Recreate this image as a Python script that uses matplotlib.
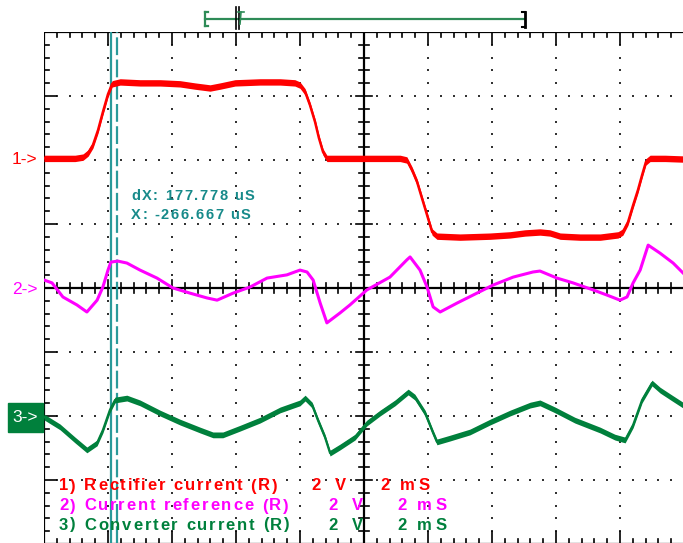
import matplotlib
matplotlib.use("Agg")
import matplotlib.pyplot as plt
from matplotlib.font_manager import FontProperties, findfont
from matplotlib.ft2font import FT2Font
import numpy as np

plt.rcParams['font.family'] = ['Liberation Sans', 'DejaVu Sans']

# scope settings
ms_per_div = 2.0
volt_per_div = 2.0
ch_offset = [2.0, 0.0, -2.0]   # marker level of each channel, in divisions

# 1) rectifier current, red (time in ms, value in V)
red_t = [0, 0.5, 0.97, 1.22, 1.38, 1.53, 1.69, 1.84, 2.0, 2.13,
         2.38, 3.0, 3.63, 4.25, 4.72, 5.19, 5.5, 5.97, 6.75, 7.38,
         7.84, 8.0, 8.16, 8.31, 8.47, 8.59, 8.72, 8.84, 9.25, 9.88,
         10.5, 11.13, 11.34, 11.5, 11.66, 11.81, 11.97, 12.13, 12.28, 13.0,
         13.94, 14.56, 15.03, 15.5, 15.81, 16.13, 16.75, 17.38, 17.94, 18.09,
         18.25, 18.41, 18.56, 18.69, 18.81, 18.94, 19.41, 19.97]
red_v = [0.05, 0.05, 0.05, 0.09, 0.22, 0.47, 0.94, 1.5, 2.06, 2.38,
         2.44, 2.41, 2.41, 2.38, 2.31, 2.25, 2.31, 2.41, 2.44, 2.44,
         2.41, 2.34, 2.13, 1.72, 1.19, 0.69, 0.25, 0.05, 0.05, 0.05,
         0.05, 0.05, 0.0, -0.31, -0.69, -1.19, -1.72, -2.25, -2.38, -2.41,
         -2.38, -2.34, -2.28, -2.25, -2.28, -2.38, -2.41, -2.41, -2.34, -2.25,
         -1.94, -1.41, -0.94, -0.47, -0.06, 0.05, 0.05, 0.03]

# 2) current reference, magenta
mag_t = [0, 0.25, 0.59, 1.03, 1.34, 1.66, 1.84, 2.0, 2.09, 2.31,
         2.59, 3.0, 3.53, 4.03, 4.56, 5.09, 5.41, 5.91, 6.44, 6.97,
         7.59, 8.0, 8.22, 8.41, 8.63, 8.84, 9.25, 9.56, 10.09, 10.81,
         11.34, 11.44, 11.75, 11.97, 12.16, 12.38, 12.91, 13.41, 14.03, 14.66,
         15.28, 15.5, 16.03, 16.53, 17.16, 17.59, 18.0, 18.22, 18.41, 18.63,
         18.88, 19.25, 19.66, 19.97]
mag_v = [0.25, 0.16, -0.28, -0.53, -0.75, -0.38, 0.03, 0.56, 0.81, 0.84,
         0.78, 0.56, 0.31, 0.0, -0.16, -0.31, -0.38, -0.16, 0.03, 0.31,
         0.41, 0.56, 0.5, 0.25, -0.47, -1.09, -0.78, -0.53, -0.06, 0.34,
         0.88, 0.97, 0.56, 0.03, -0.59, -0.75, -0.47, -0.22, 0.09, 0.34,
         0.5, 0.53, 0.31, 0.16, -0.06, -0.22, -0.38, -0.28, 0.16, 0.56,
         1.34, 1.09, 0.78, 0.47]

# 3) converter current, green
grn_t = [0, 0.5, 0.97, 1.34, 1.66, 1.84, 2.06, 2.22, 2.59, 3.0,
         3.63, 4.25, 4.88, 5.28, 5.59, 6.13, 6.75, 7.38, 8.0, 8.16,
         8.38, 8.56, 8.78, 8.94, 9.25, 9.72, 10.09, 10.5, 10.97, 11.38,
         11.59, 11.91, 12.16, 12.28, 12.69, 13.31, 13.94, 14.56, 15.19, 15.5,
         15.97, 16.59, 17.38, 17.84, 18.16, 18.41, 18.69, 19.0, 19.25, 19.63,
         19.97]
grn_v = [-0.03, -0.34, -0.75, -1.06, -0.84, -0.44, 0.19, 0.5, 0.56, 0.41,
         0.09, -0.19, -0.44, -0.59, -0.59, -0.38, -0.13, 0.19, 0.41, 0.56,
         0.34, -0.13, -0.66, -1.16, -0.97, -0.66, -0.22, 0.09, 0.41, 0.75,
         0.59, 0.09, -0.53, -0.81, -0.69, -0.5, -0.19, 0.09, 0.34, 0.41,
         0.19, -0.13, -0.44, -0.66, -0.75, -0.28, 0.5, 1.03, 0.81, 0.56,
         0.34]

cursor_ms = 2.09
cursor_dx_ms = 0.177778

legend_names = ["1) Rectifier current (R)", "2) Current reference (R)",
                "3) Converter current (R)"]
colors = ["#ff0000", "#ff00ff", "#00803c"]
teal = "#2a9a9a"

W, H = 683, 543
fig = plt.figure(figsize=(W / 100, H / 100), dpi=100)
fig.patch.set_facecolor("white")
ax = fig.add_axes([44 / W, -1 / H, 640 / W, 512 / H])
ax.set_xlim(0, 10)
ax.set_ylim(-4, 4)
ax.axis("off")

def px(x, y):
    # pixel position -> figure fraction
    return x / W, 1 - y / H

def spaced(x, y, s, color, size, extra, weight="bold"):
    # draw text char by char with extra letter spacing (scope font is wide)
    fp = FontProperties(family="Liberation Sans", weight=weight, size=size)
    font = FT2Font(findfont(fp), hinting_factor=1)
    font.set_size(size, 100)
    cur = x
    for ch in s:
        if ch != " ":
            fig.text(*px(cur, y), ch, color=color, fontproperties=fp, va="center")
        cur += font.load_char(ord(ch)).linearHoriAdvance / 65536.0 + extra

# graticule dots
minor = np.arange(0, 10.01, 0.2)
minor_y = np.arange(-4, 4.01, 0.2)
dx, dy = [], []
for k in range(1, 10):
    if k == 5:
        continue
    dx += [k] * len(minor_y)
    dy += list(minor_y)
for k in [-3, -2, -1, 1, 2, 3]:
    dx += list(minor)
    dy += [k] * len(minor)
ax.scatter(dx, dy, s=2, marker="s", color="#333333", lw=0, zorder=1)

# border and centre axes
for xs, ys in [([0, 0], [-4, 4]), ([0, 10], [4, 4]), ([0, 10], [-4, -4]),
               ([5, 5], [-4, 4]), ([0, 10], [0, 0])]:
    ax.plot(xs, ys, color="black", lw=1.6, zorder=2)

for x in minor:
    major = abs(x - round(x)) < 1e-6
    L = 0.19 if major else 0.085
    c = 0.13 if major else 0.08
    ax.plot([x, x], [4, 4 - L], color="black", lw=1.2, zorder=2)
    ax.plot([x, x], [-4, -4 + L], color="black", lw=1.2, zorder=2)
    ax.plot([x, x], [-c, c], color="black", lw=1.2, zorder=2)
for y in minor_y:
    major = abs(y - round(y)) < 1e-6
    L = 0.19 if major else 0.085
    c = 0.13 if major else 0.08
    ax.plot([0, L], [y, y], color="black", lw=1.2, zorder=2)
    ax.plot([5 - c, 5 + c], [y, y], color="black", lw=1.2, zorder=2)

# cursors
cx = cursor_ms / ms_per_div
ax.axvline(cx, color=teal, lw=1.6, zorder=3)
ax.axvline(cx + cursor_dx_ms / ms_per_div, color=teal, lw=1.6,
           linestyle=(0, (8, 2)), zorder=3)

# traces: noisy ones get a vertical band around the line
traces = [(red_t, red_v, 1.8, 0.05), (mag_t, mag_v, 2.2, 0.0),
          (grn_t, grn_v, 1.6, 0.045)]
for i, (t, v, lw, band) in enumerate(traces):
    xs = np.array(t) / ms_per_div
    ys = np.array(v) / volt_per_div + ch_offset[i]
    if band > 0:
        ax.fill_between(xs, ys - band, ys + band, color=colors[i], lw=0, zorder=4)
    ax.plot(xs, ys, color=colors[i], lw=lw, zorder=4)

# cursor readout
spaced(131, 196, "dX: 177.778 uS", "#178a8a", 10.5, 1.4)
spaced(131, 215, "X: -266.667 uS", "#178a8a", 10.5, 1.4)

# channel markers
fig.text(*px(12, 160), "1->", color=colors[0], fontsize=12.5, va="center")
fig.text(*px(12, 290), "2->", color=colors[1], fontsize=12.5, va="center")
fig.patches.append(plt.Rectangle(px(8, 432), 35 / W, 29 / H, color=colors[2],
                                 transform=fig.transFigure, figure=fig))
fig.text(*px(12, 417), "3->", color="white", fontsize=12.5, va="center")

# legend lines
rows = [486, 506, 525]
for i, name in enumerate(legend_names):
    y = rows[i]
    spaced(59, y, name, colors[i], 12, 1.7)
    x2, xv, xm = (311, 335, 380) if i == 0 else (328, 352, 397)
    spaced(x2, y, "2", colors[i], 12, 1.7)
    spaced(xv, y, "V", colors[i], 12, 1.7)
    spaced(xm, y, "2 mS", colors[i], 12, 3.0)

# trigger / memory bar at top
bar = "#2e8b57"
def seg(x0, y0, x1, y1, color, lw):
    fig.add_artist(plt.Line2D([x0 / W, x1 / W], [1 - y0 / H, 1 - y1 / H],
                              color=color, lw=lw))
seg(205, 19, 524, 19, bar, 1.6)
seg(205, 12, 205, 26, bar, 1.6)
seg(205, 12, 208, 12, bar, 1.6)
seg(205, 26, 208, 26, bar, 1.6)
seg(525, 12, 525, 27, "black", 2)
seg(522, 12, 525, 12, "black", 1.5)
seg(522, 27, 525, 27, "black", 1.5)
seg(236, 7, 236, 29, "black", 1.2)
seg(239, 7, 239, 29, "black", 1.2)
seg(238, 12, 244, 12, bar, 1.2)
seg(241, 12, 240, 24, bar, 1.2)

fig.savefig("out.png", dpi=100, facecolor="white")
